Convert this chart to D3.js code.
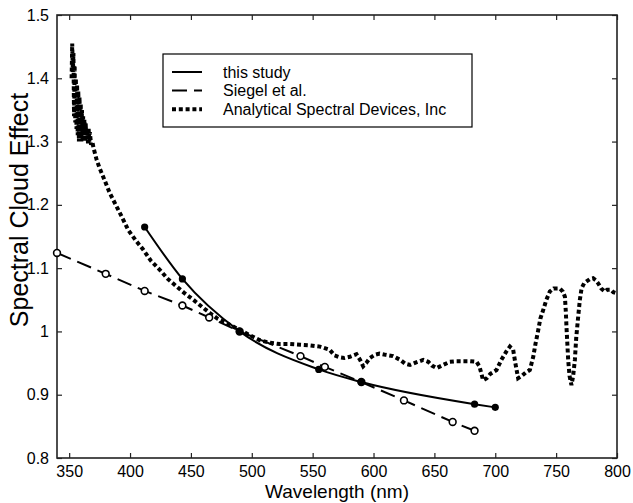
<!DOCTYPE html>
<html>
<head>
<meta charset="utf-8">
<script src="https://cdn.jsdelivr.net/npm/d3@7"></script>
<style>
  html, body { margin: 0; padding: 0; background: #fff; }
  svg { display: block; font-family: "Liberation Sans", Arial, Helvetica, sans-serif; }
</style>
</head>
<body>
<svg id="chart" width="633" height="503"></svg>
<script>
// Axis ticks
const wavelengthTicks = [350, 400, 450, 500, 550, 600, 650, 700, 750, 800];
const effectTicks = [0.8, 0.9, 1.0, 1.1, 1.2, 1.3, 1.4, 1.5];

// Series: this study (solid, filled markers)
const studyWavelength = [412, 443, 490, 555, 590, 683, 700];
const studyEffect = [1.165, 1.083, 1.0, 0.94, 0.92, 0.885, 0.88];

// Series: Siegel et al. (dashed, open markers)
const siegelWavelength = [340, 380, 412, 443, 465, 490, 540, 560, 590, 625, 665, 683];
const siegelEffect = [1.124, 1.091, 1.064, 1.041, 1.022, 1.0, 0.961, 0.944, 0.92, 0.891, 0.857, 0.843];

// Series: Analytical Spectral Devices, Inc (dotted spectrum)
const asdWavelength = [
  352.0, 352.5, 353.0, 353.5, 354.0, 354.5, 355.0, 355.5, 356.0, 356.5,
  357.0, 357.5, 358.0, 358.5, 359.0, 359.5, 360.0, 360.5, 361.0, 361.5,
  362.0, 362.5, 363.0, 363.5, 364.0, 365.0, 365.5, 366.0, 366.5, 367.0,
  368.0, 369.0, 370.0, 372.6, 375.0, 378.0, 383.5, 391.7, 398.6, 405.0,
  410.9, 417.0, 424.6, 431.0, 438.3, 445.0, 452.0, 459.0, 465.6, 472.0,
  479.4, 490.3, 498.5, 506.7, 515.0, 523.0, 531.3, 540.0, 548.0, 556.0,
  564.0, 568.0, 572.4, 576.0, 580.6, 586.0, 589.0, 591.5, 594.0, 597.0,
  601.0, 605.0, 610.0, 616.0, 622.0, 626.0, 630.0, 635.0, 640.8, 645.0,
  648.0, 651.8, 656.0, 662.7, 668.0, 673.6, 679.0, 684.6, 687.0, 690.0,
  693.0, 696.0, 701.0, 705.0, 709.0, 712.0, 714.7, 716.5, 718.8, 722.0,
  725.0, 728.4, 731.2, 733.0, 735.3, 737.0, 739.4, 742.0, 744.8, 748.0,
  753.0, 755.5, 757.2, 758.0, 758.5, 759.9, 761.0, 762.6, 764.0, 765.4,
  766.5, 768.1, 769.5, 770.9, 773.0, 775.0, 778.0, 780.4, 782.5, 784.5,
  787.0, 790.0, 792.0, 795.0, 797.0, 800.0
];
const asdEffect = [
  1.400, 1.455, 1.410, 1.440, 1.340, 1.420, 1.330, 1.400, 1.320, 1.390,
  1.310, 1.380, 1.300, 1.370, 1.310, 1.360, 1.300, 1.350, 1.300, 1.340,
  1.310, 1.335, 1.300, 1.330, 1.310, 1.320, 1.295, 1.320, 1.300, 1.315,
  1.295, 1.300, 1.290, 1.271, 1.258, 1.244, 1.218, 1.187, 1.160, 1.143,
  1.129, 1.112, 1.097, 1.083, 1.071, 1.060, 1.050, 1.039, 1.029, 1.020,
  1.013, 1.002, 0.994, 0.986, 0.982, 0.980, 0.980, 0.979, 0.978, 0.976,
  0.971, 0.962, 0.959, 0.958, 0.960, 0.964, 0.955, 0.945, 0.950, 0.958,
  0.963, 0.965, 0.963, 0.961, 0.955, 0.949, 0.947, 0.951, 0.955, 0.952,
  0.946, 0.942, 0.946, 0.952, 0.953, 0.953, 0.953, 0.952, 0.945, 0.923,
  0.926, 0.933, 0.939, 0.955, 0.968, 0.976, 0.971, 0.950, 0.926, 0.930,
  0.935, 0.939, 0.960, 0.980, 1.002, 1.020, 1.034, 1.050, 1.063, 1.068,
  1.068, 1.063, 1.055, 1.030, 1.007, 0.955, 0.930, 0.915, 0.930, 0.955,
  0.990, 1.023, 1.050, 1.068, 1.076, 1.079, 1.083, 1.084, 1.081, 1.076,
  1.068, 1.063, 1.066, 1.066, 1.062, 1.060
];

const legendLabels = ["this study", "Siegel et al.", "Analytical Spectral Devices, Inc"];

const svg = d3.select("#chart");
const plot = { left: 57, right: 617, top: 15, bottom: 458 };

const x = d3.scaleLinear().domain([340, 800]).range([plot.left, plot.right]);
const y = d3.scaleLinear().domain([0.8, 1.5]).range([plot.bottom, plot.top]);

const ink = "#000";
const frameColor = "#222";
const tickLen = 5;
const fmt = d => (Math.round(d * 10) / 10).toString();

svg.append("defs").append("clipPath").attr("id", "plotClip")
  .append("rect")
  .attr("x", plot.left).attr("y", plot.top)
  .attr("width", plot.right - plot.left).attr("height", plot.bottom - plot.top);

// Axes: inward ticks on all four sides
const bottomAxis = d3.axisBottom(x).tickValues(wavelengthTicks).tickSizeInner(-tickLen).tickSizeOuter(0).tickPadding(8);
const topAxis = d3.axisTop(x).tickValues(wavelengthTicks).tickSizeInner(-tickLen).tickSizeOuter(0).tickFormat("");
const leftAxis = d3.axisLeft(y).tickValues(effectTicks).tickSizeInner(-tickLen).tickSizeOuter(0).tickPadding(8).tickFormat(fmt);
const rightAxis = d3.axisRight(y).tickValues(effectTicks).tickSizeInner(-tickLen).tickSizeOuter(0).tickFormat("");

function styleAxis(g) {
  g.select(".domain").remove();
  g.selectAll(".tick line").attr("stroke", frameColor).attr("stroke-width", 1.2);
  g.selectAll(".tick text").attr("fill", ink).attr("font-size", 16)
    .attr("font-family", "'Liberation Sans', Arial, Helvetica, sans-serif");
}

svg.append("g").attr("transform", `translate(0,${plot.bottom})`).call(bottomAxis).call(styleAxis);
svg.append("g").attr("transform", `translate(0,${plot.top})`).call(topAxis).call(styleAxis);
svg.append("g").attr("transform", `translate(${plot.left},0)`).call(leftAxis).call(styleAxis);
svg.append("g").attr("transform", `translate(${plot.right},0)`).call(rightAxis).call(styleAxis);

// Frame box
svg.append("rect")
  .attr("x", plot.left).attr("y", plot.top)
  .attr("width", plot.right - plot.left).attr("height", plot.bottom - plot.top)
  .attr("fill", "none").attr("stroke", frameColor).attr("stroke-width", 1.6);

// Axis titles
svg.append("text")
  .attr("x", (plot.left + plot.right) / 2).attr("y", 498)
  .attr("text-anchor", "middle").attr("font-size", 19).attr("fill", ink)
  .text("Wavelength (nm)");

svg.append("text")
  .attr("transform", "translate(28,210) rotate(-90)")
  .attr("text-anchor", "middle").attr("font-size", 25).attr("fill", ink)
  .text("Spectral Cloud Effect");

const zip = (xs, ys) => xs.map((w, i) => ({ w, v: ys[i] }));
const studyData = zip(studyWavelength, studyEffect);
const siegelData = zip(siegelWavelength, siegelEffect);
const asdData = zip(asdWavelength, asdEffect);

const lineLinear = d3.line().x(d => x(d.w)).y(d => y(d.v));
const lineSmooth = d3.line().x(d => x(d.w)).y(d => y(d.v)).curve(d3.curveMonotoneX);

const styles = {
  study: { dash: null, width: 2 },
  siegel: { dash: "15 7", width: 2 },
  asd: { dash: "4 2.8", width: 4 }
};

const marks = svg.append("g").attr("clip-path", "url(#plotClip)");

// ASD dotted spectrum
marks.append("path").datum(asdData)
  .attr("d", lineLinear)
  .attr("fill", "none").attr("stroke", ink)
  .attr("stroke-width", styles.asd.width)
  .attr("stroke-dasharray", styles.asd.dash);

// Siegel et al. dashed
marks.append("path").datum(siegelData)
  .attr("d", lineLinear)
  .attr("fill", "none").attr("stroke", ink)
  .attr("stroke-width", styles.siegel.width)
  .attr("stroke-dasharray", styles.siegel.dash);

// This study smooth solid
marks.append("path").datum(studyData)
  .attr("d", lineSmooth)
  .attr("fill", "none").attr("stroke", ink)
  .attr("stroke-width", styles.study.width);

// Markers
svg.append("g").selectAll("circle").data(siegelData).join("circle")
  .attr("cx", d => x(d.w)).attr("cy", d => y(d.v)).attr("r", 3.4)
  .attr("fill", "#fff").attr("stroke", ink).attr("stroke-width", 1.6);

svg.append("g").selectAll("circle").data(studyData).join("circle")
  .attr("cx", d => x(d.w)).attr("cy", d => y(d.v)).attr("r", 3.6)
  .attr("fill", ink);

// Legend
const legend = svg.append("g");
legend.append("rect")
  .attr("x", 163).attr("y", 54).attr("width", 309).attr("height", 73)
  .attr("fill", "#fff").attr("stroke", ink).attr("stroke-width", 1.2);

const legendStyles = [styles.study, styles.siegel, styles.asd];
legendLabels.forEach((label, i) => {
  const cy = 72 + i * 18.6;
  legend.append("line")
    .attr("x1", 172).attr("x2", 202).attr("y1", cy).attr("y2", cy)
    .attr("stroke", ink)
    .attr("stroke-width", legendStyles[i].width)
    .attr("stroke-dasharray", legendStyles[i].dash);
  legend.append("text")
    .attr("x", 223).attr("y", cy + 5.5)
    .attr("font-size", 16).attr("fill", ink)
    .text(label);
});
</script>
</body>
</html>
